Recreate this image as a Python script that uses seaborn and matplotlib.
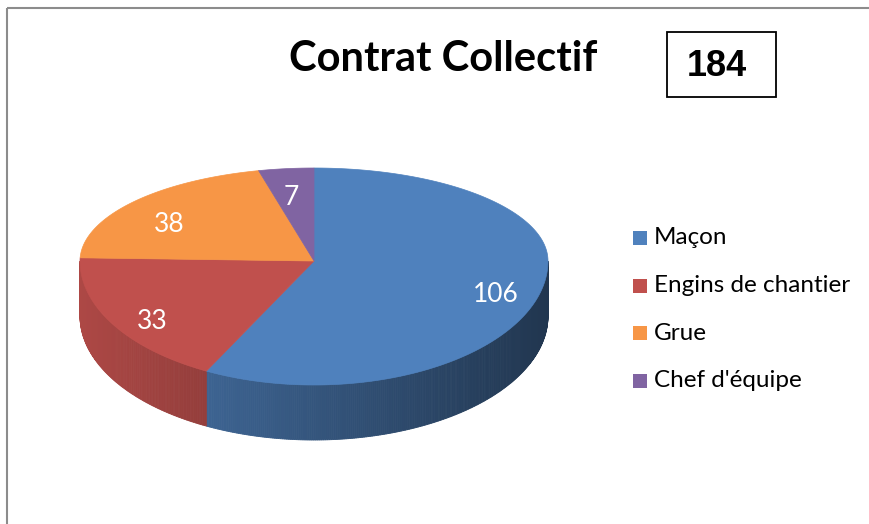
import matplotlib
matplotlib.use("Agg")
import matplotlib.pyplot as plt
from matplotlib.patches import Polygon, Rectangle
import seaborn as sns
import numpy as np

OUTPUT_FILE = "out.png"

# Data
categories = ["Maçon", "Engins de chantier", "Grue", "Chef d'équipe"]
counts = [106, 33, 38, 7]
total_label = "184"
title = "Contrat Collectif"
colors = ["#4F81BD", "#C0504D", "#F79646", "#8064A2"]

# Pie geometry (pixel space of the figure)
CX, CY = 314, 261
RX, RY_BACK, RY_FRONT = 234, 93, 124
DEPTH = 55


def arc_point(t_deg):
    """Point on the top rim, angle measured clockwise from 12 o'clock."""
    t = np.radians(t_deg)
    c = np.cos(t)
    ry = RY_BACK if c > 0 else RY_FRONT
    return CX + RX * np.sin(t), CY - ry * c


def shade(hex_color, factor):
    rgb = np.array(matplotlib.colors.to_rgb(hex_color))
    return tuple(np.clip(rgb * factor, 0, 1))


def main():
    sns.set_theme(style="white")
    plt.rcParams['font.family'] = ['Lato', 'DejaVu Sans']

    fig = plt.figure(figsize=(8.69, 5.24), dpi=100)
    ax = fig.add_axes([0, 0, 1, 1])
    ax.set_xlim(0, 869)
    ax.set_ylim(524, 0)
    ax.axis("off")

    # chart frame (only top and left visible)
    ax.plot([7, 869], [8, 8], color="#8c8c8c", lw=1.5, solid_capstyle="butt")
    ax.plot([7, 7], [8, 524], color="#8c8c8c", lw=1.5, solid_capstyle="butt")

    values = np.array(counts, dtype=float)
    angles = np.concatenate([[0], np.cumsum(values) / values.sum() * 360])

    # side walls (front half only)
    for i, col in enumerate(colors):
        a0, a1 = max(angles[i], 90), min(angles[i + 1], 270)
        if a1 <= a0:
            continue
        ts = np.linspace(a0, a1, max(int((a1 - a0) * 2), 2))
        for ta, tb in zip(ts[:-1], ts[1:]):
            xa, ya = arc_point(ta)
            xb, yb = arc_point(tb)
            frac = ((xa + xb) / 2 - (CX - RX)) / (2 * RX)
            c = shade(col, 0.9 - 0.48 * frac)
            ax.add_patch(Polygon([(xa, ya), (xb, yb), (xb, yb + DEPTH), (xa, ya + DEPTH)],
                                 closed=True, facecolor=c, edgecolor=c, lw=0.6))

    # top faces
    for i, col in enumerate(colors):
        ts = np.linspace(angles[i], angles[i + 1], 200)
        pts = [(CX, CY)] + [arc_point(t) for t in ts]
        ax.add_patch(Polygon(pts, closed=True, facecolor=col, edgecolor=col, lw=0.5))

    # value labels
    for i, v in enumerate(counts):
        mid = (angles[i] + angles[i + 1]) / 2
        x, y = arc_point(mid)
        lx = CX + 0.8 * (x - CX)
        ly = CY + 0.8 * (y - CY) + 10
        ax.text(lx, ly, str(v), color="white", fontsize=19, ha="center", va="center")

    # title and total box
    ax.text(443, 59, title, fontsize=30, fontweight="bold", ha="center", va="center",
            color="black")
    ax.add_patch(Rectangle((667, 32), 109, 65, facecolor="white", edgecolor="black", lw=1.3))
    ax.text(717, 66, total_label, fontsize=26, fontweight="bold", ha="center", va="center",
            family=["Liberation Sans", "DejaVu Sans"], color="black")

    # legend
    for i, (lab, col) in enumerate(zip(categories, colors)):
        y = 238 + i * 47.5
        ax.add_patch(Rectangle((633, y - 7), 14, 14, facecolor=col, edgecolor="none"))
        ax.text(654, y, lab, fontsize=17.5, ha="left", va="center", color="black")

    fig.savefig(OUTPUT_FILE, dpi=100)
    plt.close(fig)


if __name__ == "__main__":
    main()
